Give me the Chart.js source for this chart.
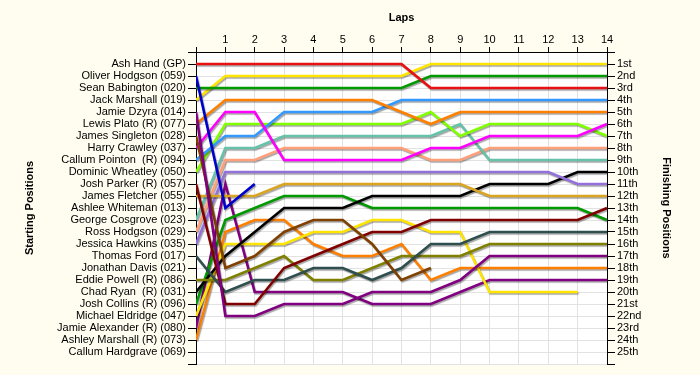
<!DOCTYPE html>
<html><head><meta charset="utf-8">
<script src="https://cdn.jsdelivr.net/npm/chart.js@4"></script>
<style>html,body{margin:0;padding:0;background:#fffdf0;}#wrap{width:700px;height:375px;position:relative;}</style>
</head><body><div id="wrap"><canvas id="c" width="700" height="375"></canvas></div>
<script>
// ---------- DATA ----------
const laps = [0,1,2,3,4,5,6,7,8,9,10,11,12,13,14];
const startingNames = ['Ash Hand (GP)','Oliver Hodgson (059)','Sean Babington (020)','Jack Marshall (019)','Jamie Dzyra (014)','Lewis Plato (R) (077)','James Singleton (028)','Harry Crawley (037)','Callum Pointon  (R) (094)','Dominic Wheatley (050)','Josh Parker (R) (057)','James Fletcher (055)','Ashlee Whiteman (013)','George Cosgrove (023)','Ross Hodgson (029)','Jessica Hawkins (035)','Thomas Ford (017)','Jonathan Davis (021)','Eddie Powell (R) (086)','Chad Ryan  (R) (031)','Josh Collins (R) (096)','Michael Eldridge (047)','Jamie Alexander (R) (080)','Ashley Marshall (R) (073)','Callum Hardgrave (069)'];
const finishLabels = ['1st','2nd','3rd','4th','5th','6th','7th','8th','9th','10th','11th','12th','13th','14th','15th','16th','17th','18th','19th','20th','21st','22nd','23rd','24th','25th'];
// position at each lap (lap 0 = grid)
const ashHand        = [1,1,1,1,1,1,1,1,3,3,3,3,3,3,3];
const oliverHodgson  = [2,13,11,null,null,null,null,null,null,null,null,null,null,null,null];
const seanBabington  = [3,3,3,3,3,3,3,3,2,2,2,2,2,2,2];
const jackMarshall   = [4,2,2,2,2,2,2,2,1,1,1,1,1,1,1];
const jamieDzyra     = [5,22,22,21,21,21,20,20,20,19,17,17,17,17,17];
const lewisPlato     = [6,4,4,4,4,4,4,5,6,5,5,5,5,5,5];
const jamesSingleton = [7,18,17,15,14,14,16,19,18,null,null,null,null,null,null];
const harryCrawley   = [8,5,5,9,9,9,9,9,8,8,7,7,7,7,6];
const callumPointon  = [9,7,7,5,5,5,5,4,4,4,4,4,4,4,4];
const dominicWheatley= [10,6,6,6,6,6,6,6,5,7,6,6,6,6,7];
const joshParker     = [11,21,21,18,17,16,15,15,14,14,14,14,14,14,13];
const jamesFletcher  = [12,12,12,11,11,11,11,11,11,11,12,12,12,12,12];
const georgeCosgrove = [14,8,8,7,7,7,7,7,7,6,9,9,9,9,9];
const rossHodgson    = [15,9,9,8,8,8,8,8,9,9,8,8,8,8,8];
const jessicaHawkins = [16,10,10,10,10,10,10,10,10,10,10,10,10,11,11];
const thomasFord     = [17,20,19,19,18,18,19,18,16,16,15,15,15,15,15];
const eddiePowell    = [19,19,18,17,19,19,18,17,17,17,16,16,16,16,16];
const chadRyan       = [20,17,15,13,13,13,12,12,12,12,11,11,11,10,10];
const joshCollins    = [21,14,13,12,12,12,13,13,13,13,13,13,13,13,14];
const michaelEldridge= [22,16,16,16,15,15,14,14,15,15,20,20,20,20,null];
const jamieAlexander = [23,11,20,20,20,20,21,21,21,20,19,19,19,19,19];
const ashleyMarshall = [24,15,14,14,16,17,17,16,19,18,18,18,18,18,18];

// ---------- STYLE ----------
const FONT = 'Liberation Sans, Arial, sans-serif';
const series = [
  ['Ash Hand', ashHand, '#e81010'],
  ['Oliver Hodgson', oliverHodgson, '#0000cc'],
  ['Sean Babington', seanBabington, '#009a00'],
  ['Jack Marshall', jackMarshall, '#ffe400'],
  ['Jamie Dzyra', jamieDzyra, '#800080'],
  ['Lewis Plato', lewisPlato, '#ff8000'],
  ['James Singleton', jamesSingleton, '#804000'],
  ['Harry Crawley', harryCrawley, '#ff00ff'],
  ['Callum Pointon', callumPointon, '#3399ff'],
  ['Dominic Wheatley', dominicWheatley, '#80ff00'],
  ['Josh Parker', joshParker, '#800000'],
  ['James Fletcher', jamesFletcher, '#daa520'],
  ['George Cosgrove', georgeCosgrove, '#66c2a8'],
  ['Ross Hodgson', rossHodgson, '#ffa07a'],
  ['Jessica Hawkins', jessicaHawkins, '#9370db'],
  ['Thomas Ford', thomasFord, '#2f4f4f'],
  ['Eddie Powell', eddiePowell, '#808000'],
  ['Chad Ryan', chadRyan, '#000000'],
  ['Josh Collins', joshCollins, '#009a00'],
  ['Michael Eldridge', michaelEldridge, '#ffe400'],
  ['Jamie Alexander', jamieAlexander, '#800080'],
  ['Ashley Marshall', ashleyMarshall, '#ff8000']
];

const datasets = series.map(([name, vals, col]) => ({
  label: name,
  data: laps.map((l, i) => ({x: l, y: vals[i]})),
  borderColor: col,
  backgroundColor: col,
  borderWidth: 2.6,
  pointRadius: 0,
  tension: 0,
  fill: false,
  spanGaps: false,
  yAxisID: 'y'
}));

const bgPlugin = {
  id: 'bg',
  beforeDraw(chart) {
    const {ctx, chartArea: a} = chart;
    ctx.save();
    ctx.fillStyle = '#fffdf0';
    ctx.fillRect(0, 0, chart.width, chart.height);
    ctx.fillStyle = '#ffffff';
    ctx.fillRect(a.left, a.top, a.right - a.left, a.bottom - a.top);
    ctx.restore();
  }
};
const shadowPlugin = {
  id: 'shadow',
  beforeDatasetsDraw(chart) {
    const ctx = chart.ctx;
    ctx.save();
    ctx.shadowColor = 'rgba(0,0,0,0.35)';
    ctx.shadowOffsetX = 1;
    ctx.shadowOffsetY = 1.5;
    ctx.shadowBlur = 1;
  },
  afterDatasetsDraw(chart) { chart.ctx.restore(); }
};

const tickFont = {family: FONT, size: 11};
const titleFont = {family: FONT, size: 11, weight: 'bold'};

new Chart(document.getElementById('c'), {
  type: 'line',
  data: {datasets},
  plugins: [bgPlugin, shadowPlugin],
  options: {
    responsive: false,
    animation: false,
    devicePixelRatio: 1,
    layout: {padding: {left: 0, right: 0, top: 0, bottom: 11}},
    plugins: {legend: {display: false}, tooltip: {enabled: false}},
    scales: {
      x: {
        type: 'linear', position: 'top', min: 0, max: 14,
        ticks: {stepSize: 1, padding: 0, color: '#000', font: tickFont, maxRotation: 0, autoSkip: false,
                callback: v => v === 0 ? '' : String(v)},
        grid: {color: '#e2e2e2', tickColor: '#000', tickLength: 5, drawOnChartArea: true},
        border: {color: '#000', width: 1},
        title: {display: true, text: 'Laps', color: '#000', font: titleFont, padding: {top: 11, bottom: 0}},
        afterFit(s) { s.height = 52; }
      },
      y: {
        type: 'linear', position: 'left', reverse: true, min: 0, max: 26,
        ticks: {stepSize: 1, padding: 2, color: '#000', font: tickFont, autoSkip: false,
                callback: v => startingNames[v - 1] || ''},
        grid: {color: '#e2e2e2', tickColor: '#000', tickLength: 8, drawOnChartArea: true},
        border: {color: '#000', width: 1},
        title: {display: true, text: 'Starting Positions', color: '#000', font: titleFont, padding: {top: 23, bottom: 0}},
        afterFit(s) { s.width = 196; }
      },
      y2: {
        type: 'linear', position: 'right', reverse: true, min: 0, max: 26,
        ticks: {stepSize: 1, padding: 2, color: '#000', font: tickFont, autoSkip: false,
                callback: v => finishLabels[v - 1] || ''},
        grid: {tickColor: '#000', tickLength: 8, drawOnChartArea: false},
        border: {color: '#000', width: 1},
        title: {display: true, text: 'Finishing Positions', color: '#000', font: titleFont, padding: {top: 27, bottom: 0}},
        afterFit(s) { s.width = 93; }
      }
    }
  }
});
</script>
</body></html>
